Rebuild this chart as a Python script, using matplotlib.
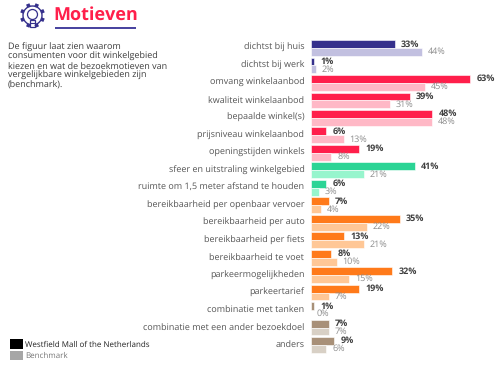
import numpy as np
import matplotlib
matplotlib.use('Agg')
import matplotlib.pyplot as plt
from matplotlib.patches import Circle, Rectangle

plt.rcParams['font.family'] = ['Open Sans', 'DejaVu Sans']
plt.rcParams['text.hinting'] = 'no_hinting'
plt.rcParams['text.hinting_factor'] = 1

categories = [
    'dichtst bij huis', 'dichtst bij werk', 'omvang winkelaanbod',
    'kwaliteit winkelaanbod', 'bepaalde winkel(s)', 'prijsniveau winkelaanbod',
    'openingstijden winkels', 'sfeer en uitstraling winkelgebied',
    'ruimte om 1,5 meter afstand te houden', 'bereikbaarheid per openbaar vervoer',
    'bereikbaarheid per auto', 'bereikbaarheid per fiets', 'bereikbaarheid te voet',
    'parkeermogelijkheden', 'parkeertarief', 'combinatie met tanken',
    'combinatie met een ander bezoekdoel', 'anders',
]
westfield = [33, 1, 63, 39, 48, 6, 19, 41, 6, 7, 35, 13, 8, 32, 19, 1, 7, 9]
benchmark = [44, 2, 45, 31, 48, 13, 8, 21, 3, 4, 22, 21, 10, 15, 7, 0, 7, 6]
dark_colors = ['#35308c'] * 2 + ['#ff1f4b'] * 5 + ['#2bd495'] * 2 + ['#ff7a1a'] * 6 + ['#a89078'] * 3
light_colors = ['#c2c0e0'] * 2 + ['#ffb8c6'] * 5 + ['#97f5cd'] * 2 + ['#ffc796'] * 6 + ['#d8d0c5'] * 3

W, H = 500, 367
fig = plt.figure(figsize=(W / 100, H / 100), dpi=100)
fig.patch.set_facecolor('white')

# overlay in pixel coordinates for title, icon, text and legend
bg = fig.add_axes([0, 0, 1, 1])
bg.set_xlim(0, W)
bg.set_ylim(H, 0)
bg.axis('off')

# bars: x=0 at px 311.3, 2.524 px per %, rows 17.47 px apart starting at y=48
x0 = 311.3
scale = 2.524
pitch = 17.47
top, bottom = 30.0, 362.0
ax = fig.add_axes([x0 / W, 1 - bottom / H, (W - x0) / W, (bottom - top) / H])
ax.set_xlim(0, (W - x0) / scale)
ax.set_ylim((bottom - 48) / pitch, (top - 48) / pitch)
ax.axis('off')

y = np.arange(len(categories))
bar_h = 0.45
ax.barh(y - bar_h / 2, westfield, height=bar_h, color=dark_colors, edgecolor='white', linewidth=0.4)
ax.barh(y + bar_h / 2, benchmark, height=bar_h, color=light_colors, edgecolor='white', linewidth=0.4)

for i in y:
    ax.annotate(f'{westfield[i]}%', (westfield[i], i - bar_h / 2), xytext=(4.5, 0),
                textcoords='offset points', va='center', ha='left',
                fontsize=6.8, fontweight='bold', color='#404040')
    ax.annotate(f'{benchmark[i]}%', (benchmark[i], i + bar_h / 2), xytext=(4, 0),
                textcoords='offset points', va='center', ha='left',
                fontsize=6.3, color='#8c8c8c')
    ax.annotate(categories[i], (0, i), xytext=(-5, 0), textcoords='offset points',
                va='center', ha='right', fontsize=6.3, color='#555555', annotation_clip=False)

# title and underline
bg.text(53, 15.5, 'Motieven', fontsize=12.8, fontweight='bold', color='#ff1f4b', va='center', ha='left')
bg.add_patch(Rectangle((54.5, 26.5), 81, 2.2, color='#4a45a0', lw=0))

# gear + bulb icon
navy = '#35308c'
cx, cy, r = 32.5, 15.5, 9.5
for a in np.arange(0, 360, 45):
    t = np.deg2rad(a + 22.5)
    bg.plot([cx + r * np.cos(t), cx + (r + 3) * np.cos(t)],
            [cy + r * np.sin(t), cy + (r + 3) * np.sin(t)], color=navy, lw=2.6, solid_capstyle='butt')
bg.add_patch(Circle((cx, cy), r, fc='white', ec=navy, lw=1.0))
bg.add_patch(Circle((cx, cy - 1), 5, fc='white', ec=navy, lw=0.9))
bg.add_patch(Rectangle((cx - 2.8, cy + 4), 5.6, 7, fc='white', ec=navy, lw=0.9))
bg.plot([cx - 2.8, cx + 2.8], [cy + 7.5, cy + 7.5], color=navy, lw=0.8)

# description
intro = ['De figuur laat zien waarom', 'consumenten voor dit winkelgebied',
         'kiezen en wat de bezoekmotieven van', 'vergelijkbare winkelgebieden zijn', '(benchmark).']
for i, line in enumerate(intro):
    bg.text(7.5, 47.5 + i * 9.4, line, fontsize=6.3, color='#3c3c3c', va='center', ha='left')

# legend
bg.add_patch(Rectangle((9.5, 339), 13, 10, color='black', lw=0))
bg.add_patch(Rectangle((9.5, 351), 13, 9, color='#a6a6a6', lw=0))
bg.text(25, 345, 'Westfield Mall of the Netherlands', fontsize=6.05, color='#222222', va='center', ha='left')
bg.text(25, 356, 'Benchmark', fontsize=6.05, color='#777777', va='center', ha='left')

fig.savefig('out.png', dpi=100, facecolor='white')
